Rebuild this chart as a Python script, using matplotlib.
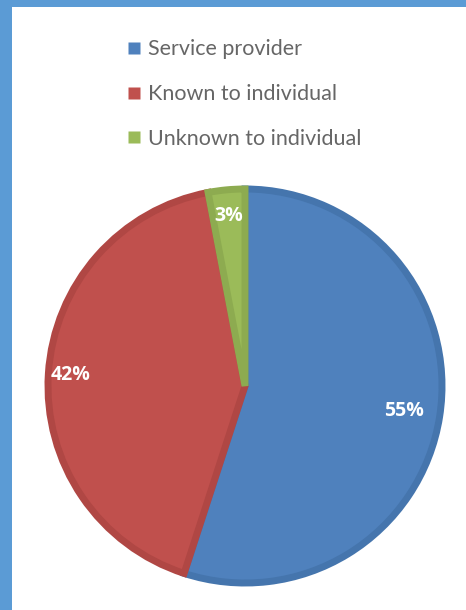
#!/usr/bin/env python3
"""Pie chart: who the person is to the individual."""
import matplotlib.pyplot as plt
import numpy as np
from matplotlib.lines import Line2D
from matplotlib.patches import Rectangle

labels = ["Service provider", "Known to individual", "Unknown to individual"]
shares = [55, 42, 3]
colors = ["#4f81bd", "#c0504d", "#9bbb59"]
edges = ["#4575ad", "#b04744", "#8dab50"]
label_dist = [0.81, 0.88, 0.86]

fig = plt.figure(figsize=(4.66, 6.10), dpi=100)
fig.patch.set_facecolor("white")

# blue frame on the top and left
fig.patches.append(Rectangle((0, 1 - 7 / 610), 1, 7 / 610, transform=fig.transFigure,
                             facecolor="#5b9bd5", edgecolor="none", zorder=0))
fig.patches.append(Rectangle((0, 0), 12 / 466, 1, transform=fig.transFigure,
                             facecolor="#5b9bd5", edgecolor="none", zorder=0))

ax = fig.add_axes([46 / 466, 25 / 610, 398 / 466, 398 / 610])
wedges, _ = ax.pie(shares, colors=colors, startangle=90, counterclock=False,
                   radius=0.99, wedgeprops=dict(linewidth=5))
for w, ec in zip(wedges, edges):
    w.set_edgecolor(ec)

for w, s, d in zip(wedges, shares, label_dist):
    mid = np.deg2rad((w.theta1 + w.theta2) / 2)
    ax.text(d * np.cos(mid), d * np.sin(mid), f"{s}%", ha="center", va="center",
            color="white", fontsize=14, fontweight="bold", family="Open Sans")
ax.set_xlim(-1, 1)
ax.set_ylim(-1, 1)
ax.set_aspect("equal")
ax.axis("off")

handles = [Line2D([], [], marker="s", linestyle="none", markersize=8,
                  markerfacecolor=c, markeredgecolor="none") for c in colors]
fig.legend(handles, labels, loc="upper left", bbox_to_anchor=(105 / 466, 1 - 20 / 610),
           frameon=False, handletextpad=0.2, labelspacing=1.15, handlelength=0.9,
           prop=dict(family="Lato", size=15.5), labelcolor="#666666")

fig.savefig("out.png", dpi=100)
